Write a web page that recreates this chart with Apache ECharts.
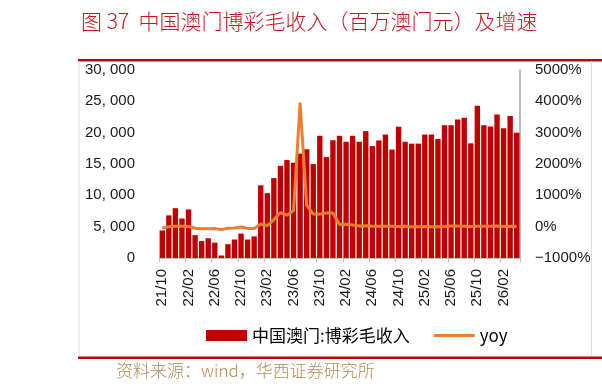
<!DOCTYPE html>
<html>
<head>
<meta charset="utf-8">
<script src="https://cdn.jsdelivr.net/npm/echarts@6/dist/echarts.min.js"></script>
<style>
html,body{margin:0;padding:0;background:#fff;}
#c{width:602px;height:391px;}
</style>
</head>
<body>
<div id="c"></div>
<script>
const titleText = '图 37  中国澳门博彩毛收入（百万澳门元）及增速';
const sourceText = '资料来源：wind，华西证券研究所';
const seriesNames = ['中国澳门:博彩毛收入', 'yoy'];

const months = [
  '21/10','21/11','21/12',
  '22/01','22/02','22/03','22/04','22/05','22/06','22/07','22/08','22/09','22/10','22/11','22/12',
  '23/01','23/02','23/03','23/04','23/05','23/06','23/07','23/08','23/09','23/10','23/11','23/12',
  '24/01','24/02','24/03','24/04','24/05','24/06','24/07','24/08','24/09','24/10','24/11','24/12',
  '25/01','25/02','25/03','25/04','25/05','25/06','25/07','25/08','25/09','25/10','25/11','25/12',
  '26/01','26/02','26/03','26/04'
];

// 中国澳门:博彩毛收入 (百万澳门元)
const revenue = [
  4400, 6800, 7950,
  6300, 7750, 3650, 2700, 3150, 2450, 400, 2200, 2950, 3900, 2950, 3450,
  11600, 10350, 12750, 14700, 15650, 15200, 16650, 17350, 15000, 19500, 16100, 18800,
  19500, 18550, 19500, 18550, 20250, 17850, 18750, 19700, 17300, 20950, 18550, 18250,
  18250, 19700, 19700, 19000, 21200, 21200, 22100, 22400, 18300, 24300, 21200, 21000,
  22900, 20700, 22650, 20000
];

// yoy (%)
const yoy = [
  -45, -5, 10,
  10, 5, -50, -65, -65, -60, -95, -50, -45, -10, -55, -55,
  85, 35, 220, 450, 365, 515, 3950, 680, 405, 400, 435, 435,
  70, 80, 55, 25, 30, 15, 10, 15, 15, 5, 15, -5,
  -5, 5, 0, 0, 5, 20, 20, 15, 5, 15, 15, 15,
  20, 5, 15, 5
];

const leftTicks = [0, 30000, 5000];
const rightTicks = [-1000, 5000, 1000];

const chart = echarts.init(document.getElementById('c'), null, {renderer: 'canvas'});
const latin = '"Liberation Sans", Arial, sans-serif';
const cjk = '"Noto Sans CJK SC", "Noto Sans", sans-serif';

function fmtThousands(v) {
  const s = String(Math.round(v));
  if (s.length <= 3) return s;
  return s.slice(0, s.length - 3) + ', ' + s.slice(s.length - 3);
}

chart.setOption({
  animation: false,
  backgroundColor: '#ffffff',
  grid: {left: 159, right: 82, top: 70, bottom: 133, containLabel: false},
  graphic: [
    {type: 'text', left: 81, top: 11, style: {text: titleText, fill: '#c8161d', font: '300 21px ' + cjk}},
    {type: 'rect', shape: {x: 78, y: 59, width: 524, height: 2.5}, style: {fill: '#c00000'}},
    {type: 'rect', shape: {x: 78.5, y: 61, width: 1, height: 296}, style: {fill: '#dcdcdc'}},
    {type: 'rect', shape: {x: 591, y: 61, width: 1, height: 296}, style: {fill: '#dcdcdc'}},
    {type: 'rect', shape: {x: 78, y: 356.5, width: 524, height: 2.5}, style: {fill: '#c00000'}},
    {type: 'text', left: 116, top: 362, style: {text: sourceText, fill: '#b48a52', font: '300 17px ' + cjk}}
  ],
  legend: {
    left: 206, top: 327, padding: 0,
    itemWidth: 41, itemHeight: 11, itemGap: 24,
    symbolKeepAspect: true,
    textStyle: {fontSize: 17, color: '#000', fontFamily: cjk},
    data: [
      {name: seriesNames[0], icon: 'rect'},
      {name: seriesNames[1], icon: 'path://M0,0L41,0L41,3L0,3Z', itemStyle: {color: '#ed7d31'}}
    ]
  },
  xAxis: {
    type: 'category',
    data: months,
    boundaryGap: true,
    axisLine: {show: true, lineStyle: {color: '#bfbfbf', width: 1}},
    axisTick: {show: true, interval: 3, alignWithLabel: false, length: 4, lineStyle: {color: '#bfbfbf'}},
    axisLabel: {interval: 3, rotate: 90, margin: 11, fontSize: 15, color: '#1a1a1a', fontFamily: latin}
  },
  yAxis: [
    {
      type: 'value', min: leftTicks[0], max: leftTicks[1], interval: leftTicks[2],
      axisLine: {show: false}, axisTick: {show: false}, splitLine: {show: false},
      axisLabel: {margin: 24, fontSize: 15, color: '#1a1a1a', fontFamily: latin, formatter: fmtThousands}
    },
    {
      type: 'value', min: rightTicks[0], max: rightTicks[1], interval: rightTicks[2], position: 'right',
      axisLine: {show: true, lineStyle: {color: '#a6a6a6', width: 1.5}}, axisTick: {show: false}, splitLine: {show: false},
      axisLabel: {margin: 15, fontSize: 15, color: '#1a1a1a', fontFamily: latin,
        formatter: v => (v < 0 ? '\u2212' + Math.abs(v) : v) + '%'}
    }
  ],
  series: [
    {
      name: seriesNames[0], type: 'bar', data: revenue, yAxisIndex: 0,
      barCategoryGap: '18%',
      itemStyle: {color: '#c00000'}
    },
    {
      name: seriesNames[1], type: 'line', data: yoy, yAxisIndex: 1,
      symbol: 'none', showSymbol: false, smooth: false,
      lineStyle: {color: '#ed7d31', width: 3},
      itemStyle: {color: '#ed7d31'}
    }
  ]
});
</script>
</body>
</html>
